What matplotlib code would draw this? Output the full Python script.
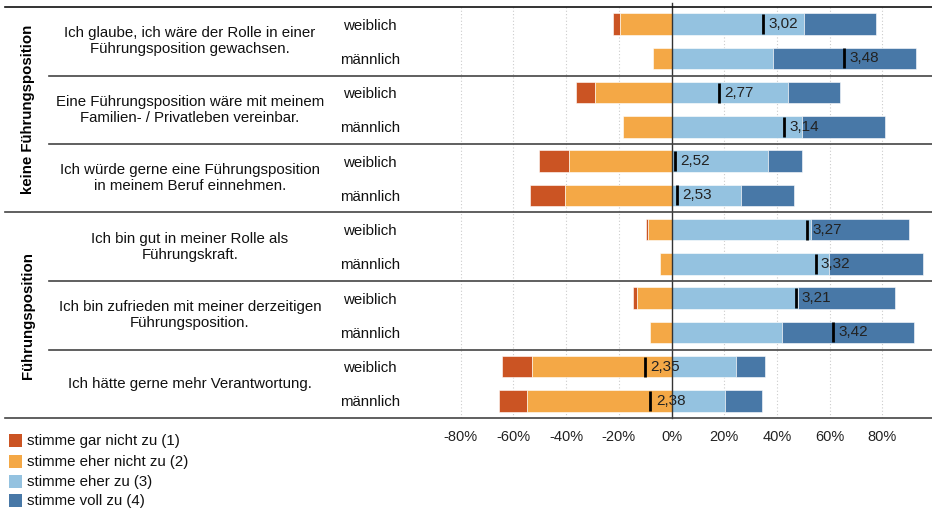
import matplotlib
matplotlib.use("Agg")
import matplotlib.pyplot as plt
from matplotlib.lines import Line2D
from matplotlib.patches import Rectangle

plt.rcParams['font.family'] = ['Liberation Sans', 'DejaVu Sans']

# ---------------- data ----------------
groups = ["keine Führungsposition", "Führungsposition"]
questions = [
    "Ich glaube, ich wäre der Rolle in einer\nFührungsposition gewachsen.",
    "Eine Führungsposition wäre mit meinem\nFamilien- / Privatleben vereinbar.",
    "Ich würde gerne eine Führungsposition\nin meinem Beruf einnehmen.",
    "Ich bin gut in meiner Rolle als\nFührungskraft.",
    "Ich bin zufrieden mit meiner derzeitigen\nFührungsposition.",
    "Ich hätte gerne mehr Verantwortung.",
]
genders = ["weiblich", "männlich"]

gar_nicht = [2.8, 0.0, 7.2, 0.0, 11.2, 13.4, 0.7, 0.0, 1.5, 0.0, 11.5, 10.8]
eher_nicht = [19.6, 7.1, 28.9, 18.5, 39.1, 40.3, 9.0, 4.3, 13.2, 8.2, 52.9, 54.8]
eher_zu = [50.3, 38.5, 44.2, 49.5, 36.6, 26.2, 52.9, 59.7, 47.8, 41.9, 24.3, 20.4]
voll_zu = [27.2, 54.2, 19.7, 31.6, 12.9, 20.3, 37.0, 35.6, 37.1, 49.9, 11.0, 13.8]
means = [3.02, 3.48, 2.77, 3.14, 2.52, 2.53, 3.27, 3.32, 3.21, 3.42, 2.35, 2.38]

legend_labels = ["stimme gar nicht zu (1)", "stimme eher nicht zu (2)",
                 "stimme eher zu (3)", "stimme voll zu (4)"]
colors = ["#CB5423", "#F4A846", "#94C2E0", "#4878A7"]
xticks = [-80, -60, -40, -20, 0, 20, 40, 60, 80]

# ---------------- layout ----------------
W, H = 932, 508
fig = plt.figure(figsize=(W / 100, H / 100), dpi=100)

def fx(x):
    return x / W

def fy(y):
    return 1 - y / H

top_px, bot_px = 7, 418
ax_left_px = 408
ax = fig.add_axes([fx(ax_left_px), fy(bot_px), fx(W - ax_left_px), (bot_px - top_px) / H])
n = len(means)
ax.set_ylim(n, 0)
ax.set_xlim(-100, 98.8)
for s in ax.spines.values():
    s.set_visible(False)
ax.set_yticks([])

# grid
for t in xticks:
    if t != 0:
        ax.axvline(t, color="#CCCCCC", lw=0.8, ls=(0, (1, 2)), zorder=0)

ys = [i + 0.5 for i in range(n)]
bh = 0.63
left_red = [-(a + b) for a, b in zip(gar_nicht, eher_nicht)]
left_or = [-b for b in eher_nicht]
ax.barh(ys, gar_nicht, left=left_red, height=bh, color=colors[0], edgecolor="white", lw=0.4, zorder=2)
ax.barh(ys, eher_nicht, left=left_or, height=bh, color=colors[1], edgecolor="white", lw=0.4, zorder=2)
ax.barh(ys, eher_zu, left=0, height=bh, color=colors[2], edgecolor="white", lw=0.4, zorder=2)
ax.barh(ys, voll_zu, left=eher_zu, height=bh, color=colors[3], edgecolor="white", lw=0.4, zorder=2)

# zero line
ax.plot([0, 0], [-0.0, 1.01], transform=ax.get_xaxis_transform(), color="#333333",
        lw=1.0, clip_on=False, zorder=3)

# mean markers
for y, m in zip(ys, means):
    xm = (m - 2.5) / 1.5 * 100
    ax.plot([xm, xm], [y - 0.29, y + 0.29], color="black", lw=2.0, zorder=4,
            solid_capstyle="butt")
    ax.text(xm + 2.0, y, f"{m:.2f}".replace(".", ","), va="center", ha="left",
            fontsize=11, color="#222222", zorder=5)

ax.set_xticks(xticks)
ax.set_xticklabels([f"{t}%" for t in xticks], fontsize=10.5, color="#222222")
ax.tick_params(axis="x", length=0, pad=8.5)

# horizontal separators
row_h = (bot_px - top_px) / n
def row_y(k):
    return top_px + k * row_h

for k in range(0, n + 1, 2):
    if k in (0, 6, 12):
        x0 = 5
        col = "#111111" if k == 0 else "#444444"
    else:
        x0 = 49
        col = "#444444"
    fig.add_artist(Line2D([fx(x0), 1], [fy(row_y(k)), fy(row_y(k))],
                          transform=fig.transFigure, color=col, lw=1.2))

# group labels
for g, label in enumerate(groups):
    yc = (row_y(g * 6) + row_y(g * 6 + 6)) / 2
    fig.text(fx(28), fy(yc), label, rotation=90, ha="center", va="center",
             fontsize=10.8, fontweight="bold")

# questions
for q, text in enumerate(questions):
    yc = row_y(2 * q + 1)
    fig.text(fx(190), fy(yc), text, ha="center", va="center", fontsize=10.8,
             linespacing=1.2, color="#111111")

# genders
for i in range(n):
    yc = row_y(i) + row_h / 2 + 1.5
    fig.text(fx(370), fy(yc), genders[i % 2], ha="center", va="center", fontsize=10.8,
             color="#111111")

# legend
leg_y = [441, 462, 482, 501]
for lab, c, y in zip(legend_labels, colors, leg_y):
    fig.add_artist(Rectangle((fx(9), fy(y + 6)), 13 / W, 13 / H, transform=fig.transFigure,
                             facecolor=c, edgecolor="none"))
    fig.text(fx(27), fy(y), lab, ha="left", va="center", fontsize=10.8, color="#111111")

fig.savefig("out.png", dpi=100, facecolor="white")
